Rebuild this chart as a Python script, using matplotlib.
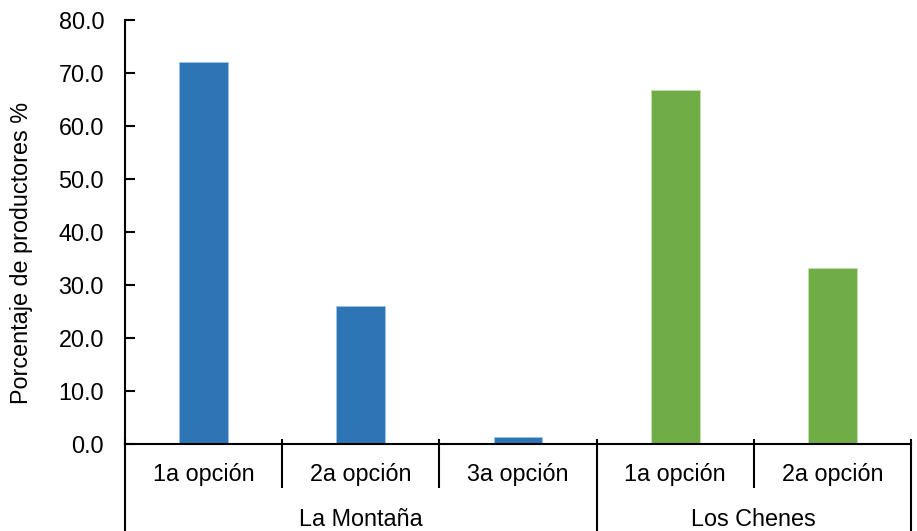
import numpy as np
import matplotlib
matplotlib.use("Agg")
import matplotlib.pyplot as plt
from matplotlib.ticker import FormatStrFormatter

plt.rcParams["font.family"] = ["Liberation Sans", "DejaVu Sans"]

# Porcentaje de productores por opción en cada región
regions = ["La Montaña", "Los Chenes"]
options_montana = ["1a opción", "2a opción", "3a opción"]
values_montana = [72.1, 26.0, 1.3]
options_chenes = ["1a opción", "2a opción"]
values_chenes = [66.7, 33.3]

blue = "#2E75B6"
green = "#70AD47"

fig = plt.figure(figsize=(9.17, 5.31), dpi=100)
ax = fig.add_axes([125 / 917, 1 - 444 / 531, (911 - 125) / 917, (444 - 20) / 531])

n_m = len(values_montana)
n_c = len(values_chenes)
x_m = np.arange(n_m)
x_c = np.arange(n_c) + n_m
width = 0.31
ax.bar(x_m, values_montana, width=width, color=blue, edgecolor="#9DC3E6", linewidth=0.6, zorder=2)
ax.bar(x_c, values_chenes, width=width, color=green, edgecolor="#C5E0B4", linewidth=0.6, zorder=2)

n_all = n_m + n_c
ax.set_xlim(-0.5, n_all - 0.5)
ax.set_ylim(0, 80)
ax.set_yticks(np.arange(0, 81, 10))
ax.yaxis.set_major_formatter(FormatStrFormatter("%.1f"))
ax.tick_params(axis="y", direction="in", length=7, width=1.5, labelsize=16.8, pad=15)
ax.set_xticks([])

for side in ["top", "right"]:
    ax.spines[side].set_visible(False)
ax.spines["left"].set_linewidth(1.5)
ax.spines["bottom"].set_linewidth(1.5)

ax.set_ylabel("Porcentaje de productores %", fontsize=16.8)
ax.yaxis.set_label_coords(-92 / 786, (444 - 253) / 424)

# Eje de categorías en dos niveles
trans = ax.get_xaxis_transform()
px = 1 / 424
top = 5 * px
inner_bottom = -44 * px
outer_bottom = -88 * px
group_edges = [-0.5, n_m - 0.5, n_all - 0.5]
inner_edges = [i + 0.5 for i in range(n_all - 1) if i + 0.5 not in group_edges]

for xe in group_edges:
    ax.plot([xe, xe], [top, outer_bottom], transform=trans, color="black",
            lw=1.5, clip_on=False, solid_capstyle="butt")
for xe in inner_edges:
    ax.plot([xe, xe], [top, inner_bottom], transform=trans, color="black",
            lw=1.5, clip_on=False, solid_capstyle="butt")

for xi, lab in zip(list(x_m) + list(x_c), options_montana + options_chenes):
    ax.text(xi, -31 * px, lab, transform=trans, ha="center", va="center", fontsize=16.8)

group_centers = [(n_m - 1) / 2, n_m + (n_c - 1) / 2]
for xc, lab in zip(group_centers, regions):
    ax.text(xc, -75 * px, lab, transform=trans, ha="center", va="center", fontsize=16.8)

fig.savefig("out.png", dpi=100)
